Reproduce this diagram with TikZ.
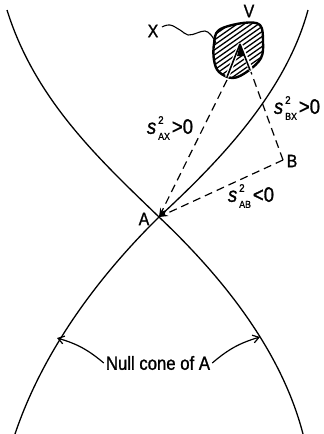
\documentclass[tikz,border=0pt]{standalone}
\usepackage{fontspec}
\setmainfont{Liberation Sans}[FakeStretch=0.88, FakeBold=1.2]
\usetikzlibrary{arrows.meta}
\tikzset{
  cone/.style={line width=1.3pt},
  dashln/.style={line width=1.2pt, dash pattern=on 8pt off 5pt},
  lbl/.style={font=\fontsize{18}{18}\selectfont, inner sep=0pt},
  eqlbl/.style={font=\fontsize{21}{21}\selectfont, inner sep=0pt},
  pointer/.style={line width=1.2pt, -{Straight Barb[length=6pt,width=8pt]}},
  hatch/.style={line width=1.3pt},
}
\newcommand\sqr[2]{\textit{s}\kern2pt\rlap{\raisebox{10pt}{\fontsize{11}{11}\selectfont 2}}\raisebox{-6pt}{\fontsize{10}{10}\selectfont #1}\kern2pt#2}
\begin{document}
\begin{tikzpicture}[x=1pt,y=-1pt]
\useasboundingbox (0,0) rectangle (324,434);
\coordinate (A) at (159,217);
\coordinate (B) at (283,160);
\coordinate (X) at (240,44);
% null cone
\draw[cone] (7,10) .. controls (35,100) and (100,160) .. (A);
\draw[cone] (308,10) .. controls (285,95) and (215,165) .. (A);
\draw[cone] (A) .. controls (105,270) and (45,345) .. (15,434);
\draw[cone] (A) .. controls (215,270) and (280,345) .. (303,434);
% blob V
\def\blob{plot[smooth cycle, tension=0.6] coordinates {(219,30) (243,23) (260,25) (263,42) (261,58) (248,71) (233,78) (219,72) (214,60) (214,44)}}
\begin{scope}
  \clip \blob;
  \foreach \k in {-20,...,20}
    \draw[hatch] (200,{50+\k*5}) -- ++(80,-56);
\end{scope}
\draw[line width=2.4pt] \blob;
\draw[white, line width=4pt] (227,77) -- (X) (251,70) -- (X);
\draw[line width=1.6pt] (227,77) -- (X);
\draw[line width=1.6pt] (250,70) -- (X);
\fill (X) -- ++(-3,12) -- ++(8,0) -- cycle;
% dashed intervals
\draw[dashln, -{Stealth[length=9pt,width=6pt]}] (227,80) -- (A);
\draw[dashln, -{Stealth[length=9pt,width=6pt]}] (B) -- (A);
\draw[dashln] (B) -- (251,72);
% wavy pointer from X label
\node[lbl] (xl) at (153,31) {X};
\draw[line width=1.1pt] plot[smooth, tension=0.7] coordinates {(162,27) (170,25) (180,30) (188,35) (197,33) (205,31) (211,35) (216,43)};
\node[lbl] (vl) at (249,11) {V};
\node[lbl] (bl) at (292,161) {B};
\node[lbl] (al) at (144,219) {A};
\node[eqlbl] (sax) at (170,128) {\sqr{AX}{>0}};
\node[eqlbl] (sbx) at (297,108) {\sqr{BX}{>0}};
\node[eqlbl] (sab) at (251,196) {\sqr{AB}{<0}};
% null cone label
\node[font=\fontsize{19}{19}\selectfont, inner sep=2pt] (nc) at (158,363) {Null cone of A};
\coordinate (nl) at (57,338);
\coordinate (nr) at (260,337);
\draw[pointer] (nc.west) to[bend right=12] (nl);
\draw[pointer] (nc.east) to[bend left=12] (nr);
\end{tikzpicture}
\end{document}
